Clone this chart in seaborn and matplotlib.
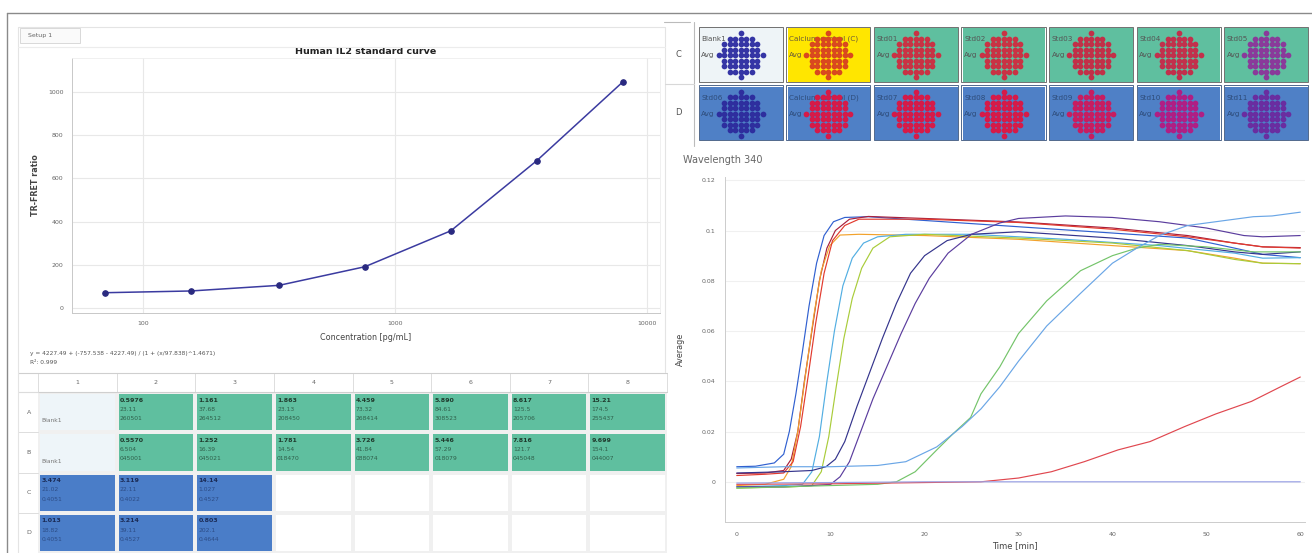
import numpy as np
import pandas as pd
import matplotlib
matplotlib.use("Agg")
import matplotlib.pyplot as plt
import seaborn as sns
from matplotlib.colors import ListedColormap
from matplotlib.patches import Rectangle
from matplotlib.lines import Line2D

# ---------------- data ----------------
# standard curve
conc = [70.6, 155, 347, 760, 1667, 3657, 8030]
ratio = [72, 80, 106, 192, 358, 682, 1046]
std_xticks = [100, 1000, 10000]
std_yticks = [0, 200, 400, 600, 800, 1000]
equation = "y = 4227.49 + (-757.538 - 4227.49) / (1 + (x/97.838)^1.4671)"
r2_text = "R\u00b2: 0.999"

# results table
tbl_cols = ["1", "2", "3", "4", "5", "6", "7", "8"]
tbl_rows = ["A", "B", "C", "D"]
tbl_kind = [[1, 2, 2, 2, 2, 2, 2, 2],
            [1, 2, 2, 2, 2, 2, 2, 2],
            [3, 3, 3, 0, 0, 0, 0, 0],
            [3, 3, 3, 0, 0, 0, 0, 0]]
tbl_v1 = [["", "0.5976", "1.161", "1.863", "4.459", "5.890", "8.617", "15.21"],
          ["", "0.5570", "1.252", "1.781", "3.726", "5.446", "7.816", "9.699"],
          ["3.474", "3.119", "14.14", "", "", "", "", ""],
          ["1.013", "3.214", "0.803", "", "", "", "", ""]]
tbl_v2 = [["", "23.11", "37.68", "23.13", "73.32", "84.61", "125.5", "174.5"],
          ["", "6.504", "16.39", "14.54", "41.84", "57.29", "121.7", "154.1"],
          ["21.02", "22.11", "1.027", "", "", "", "", ""],
          ["18.82", "39.11", "202.1", "", "", "", "", ""]]
tbl_v3 = [["", "260501", "264512", "208450", "268414", "308523", "205706", "255437"],
          ["", "045001", "045021", "018470", "088074", "018079", "045048", "044007"],
          ["0.4051", "0.4022", "0.4527", "", "", "", "", ""],
          ["0.4051", "0.4527", "0.4644", "", "", "", "", ""]]
tbl_blank = [["Blank1", "", "", "", "", "", "", ""],
             ["Blank1", "", "", "", "", "", "", ""],
             ["", "", "", "", "", "", "", ""],
             ["", "", "", "", "", "", "", ""]]

# well overview
well_rows = ["C", "D"]
well_kind = [[0, 1, 2, 2, 2, 2, 2],
             [3, 3, 3, 3, 3, 3, 3]]
well_names = [["Blank1", "Calcium control (C)", "Std01", "Std02", "Std03", "Std04", "Std05"],
              ["Std06", "Calcium control (D)", "Std07", "Std08", "Std09", "Std10", "Std11"]]
well_dot = [["#3535a5", "#d9481f", "#c93244", "#c93244", "#c23048", "#c2304c", "#8a3a9a"],
            ["#2e2e9e", "#d61a48", "#d61a48", "#d61a48", "#c81d60", "#b01e84", "#6a2da0"]]
dot_row_widths = [1, 5, 7, 7, 9, 7, 7, 5, 1]

# kinetic curves (Wavelength 340)
kin_t = {
    "c1": [0, 2, 4, 5, 5.6, 6.3, 7, 7.7, 8.5, 9.3, 10.3, 11.5, 14, 20, 30, 40, 48, 53, 56, 60],
    "c2": [0, 3, 5, 5.8, 6.5, 7.2, 8, 8.8, 9.6, 10.5, 12, 14, 20, 30, 40, 48, 53, 56, 60],
    "c3": [0, 3, 5, 5.8, 6.5, 7.3, 8.2, 9, 9.9, 11, 13, 20, 30, 40, 48, 53, 56, 60],
    "c4": [0, 3, 5, 6, 6.8, 7.6, 8.4, 9.3, 10.2, 11.5, 13, 20, 30, 40, 48, 53, 56, 60],
    "c5": [0, 5, 7, 8, 8.8, 9.6, 10.4, 11.3, 12.3, 13.5, 15, 18, 25, 35, 45, 53, 56, 60],
    "c6": [0, 6, 8, 9, 9.8, 10.6, 11.4, 12.3, 13.3, 14.5, 16.3, 20, 30, 40, 48, 53, 56, 60],
    "c7": [0, 5, 8, 9.5, 10.5, 11.5, 12.8, 14.2, 15.5, 17, 18.5, 20, 22.4, 25, 30, 40, 48, 53, 56, 60],
    "c8": [0, 5, 8, 10, 11, 12, 13, 14.5, 16, 17.5, 19, 20.5, 22.5, 25, 28, 30, 35, 40, 45, 50, 54, 56, 60],
    "c9": [0, 5, 10, 15, 17, 19, 21.3, 23, 24.9, 26, 28, 30, 33, 36.6, 40, 42.6, 45, 50, 55, 60],
    "c10": [0, 5, 10, 15, 18, 21.3, 24, 26, 28, 30, 33, 36.6, 40, 42.6, 45, 48, 52, 55, 57, 60],
    "c11": [0, 10, 20, 26, 30, 33.5, 37, 40.6, 44, 47.7, 51, 54.8, 58, 60],
    "c12": [0, 10, 20, 30, 40, 50, 60],
}
kin_v = {
    "c1": [0.0060, 0.0062, 0.0075, 0.011, 0.020, 0.035, 0.052, 0.070, 0.087, 0.098, 0.1035, 0.1052,
           0.1055, 0.1040, 0.1015, 0.0990, 0.0970, 0.0930, 0.0905, 0.0892],
    "c2": [0.0033, 0.0035, 0.0045, 0.009, 0.020, 0.040, 0.060, 0.080, 0.093, 0.100, 0.1045, 0.1056,
           0.1048, 0.1034, 0.1010, 0.0980, 0.0950, 0.0935, 0.0932],
    "c3": [-0.0015, -0.0010, 0.0010, 0.006, 0.020, 0.042, 0.066, 0.084, 0.094, 0.0982, 0.0985,
           0.0980, 0.0965, 0.0940, 0.0920, 0.0890, 0.0870, 0.0868],
    "c4": [0.0025, 0.0030, 0.0035, 0.008, 0.022, 0.042, 0.063, 0.083, 0.096, 0.102, 0.1045,
           0.1045, 0.1032, 0.1005, 0.0975, 0.0950, 0.0935, 0.0930],
    "c5": [-0.0020, -0.0015, -0.0010, 0.004, 0.018, 0.040, 0.060, 0.078, 0.089, 0.095, 0.0975,
           0.0985, 0.0985, 0.0965, 0.0940, 0.0910, 0.0890, 0.0892],
    "c6": [-0.0025, -0.0020, -0.0015, 0.004, 0.018, 0.038, 0.057, 0.073, 0.085, 0.093, 0.0975,
           0.0985, 0.0970, 0.0950, 0.0920, 0.0885, 0.0870, 0.0868],
    "c7": [0.0035, 0.0040, 0.0045, 0.006, 0.009, 0.016, 0.030, 0.044, 0.057, 0.071, 0.083, 0.090,
           0.096, 0.0985, 0.0995, 0.0970, 0.0940, 0.0915, 0.0905, 0.0915],
    "c8": [-0.0020, -0.0020, -0.0015, -0.0010, 0.002, 0.008, 0.018, 0.033, 0.046, 0.059, 0.071,
           0.081, 0.091, 0.0985, 0.1030, 0.1048, 0.1058, 0.1052, 0.1035, 0.1010, 0.0980, 0.0975, 0.0980],
    "c9": [-0.0025, -0.0020, -0.0015, -0.0010, 0.0000, 0.004, 0.0127, 0.019, 0.0256, 0.035, 0.0457,
           0.059, 0.072, 0.084, 0.090, 0.093, 0.0945, 0.0935, 0.0915, 0.0915],
    "c10": [0.0055, 0.0060, 0.0060, 0.0065, 0.0080, 0.0139, 0.022, 0.029, 0.0378, 0.048, 0.062,
            0.075, 0.087, 0.093, 0.098, 0.102, 0.104, 0.1055, 0.1058, 0.1073],
    "c11": [-0.0010, -0.0008, -0.0003, 0.0000, 0.0015, 0.004, 0.008, 0.0127, 0.016, 0.022, 0.027,
            0.032, 0.038, 0.0417],
    "c12": [-0.0005, -0.0003, 0.0000, 0.0000, 0.0000, 0.0000, 0.0000],
}
kin_colors = {
    "c1": "#3060d0", "c2": "#a8203c", "c3": "#f2a22c", "c4": "#e23a2e",
    "c5": "#52aee2", "c6": "#a9cc3a", "c7": "#34348c", "c8": "#5b3d9e",
    "c9": "#74c46a", "c10": "#6aa6e6", "c11": "#e0474f", "c12": "#9aa2e6",
}
kin_xticks = [0, 10, 20, 30, 40, 50, 60]
kin_yticks = [0, 0.02, 0.04, 0.06, 0.08, 0.1, 0.12]
kin_ylabels = ["0", "0.02", "0.04", "0.06", "0.08", "0.1", "0.12"]

# ---------------- figure ----------------
sns.set_theme(style="white")
plt.rcParams['font.family'] = ['DejaVu Sans']

W, H = 1312, 553
fig = plt.figure(figsize=(W / 100, H / 100), dpi=100)
fig.patch.set_facecolor("white")


def rect(x0, y0, x1, y1):
    return [x0 / W, 1 - y1 / H, (x1 - x0) / W, (y1 - y0) / H]


def fline(x0, y0, x1, y1, color="#cccccc", lw=0.8):
    fig.add_artist(Line2D([x0 / W, x1 / W], [1 - y0 / H, 1 - y1 / H], color=color, lw=lw))


# frame lines
fline(7, 12.5, 1312, 12.5, "#8a8a8a", 1.0)
fline(7, 12.5, 7, 553, "#8a8a8a", 1.0)
# left panel frame
fline(18, 27, 665, 27, "#e4e4e4", 0.8)
fline(18, 27, 18, 553, "#e4e4e4", 0.8)
fline(665, 27, 665, 372, "#e4e4e4", 0.8)
fline(18, 47, 665, 47, "#ececec", 0.8)
# tab
fig.add_artist(Rectangle((20 / W, 1 - 43 / H), 60 / W, 15 / H, transform=fig.transFigure,
                         fc="#fafafa", ec="#d8d8d8", lw=0.7))
fig.text(28 / W, 1 - 35.5 / H, "Setup 1", fontsize=4.5, color="#666666", va="center")

# ---------------- standard curve ----------------
ax = fig.add_axes(rect(72, 58, 660, 313))
ax.set_xscale("log")
sns.lineplot(x=conc, y=ratio, ax=ax, color="#3b3ba0", lw=1.1, marker="o", markersize=4,
             markerfacecolor="#2a2a80", markeredgecolor="#2a2a80")
ax.set_xlim(52.3, 11270)
ax.set_ylim(-21.7, 1156)
ax.set_xticks(std_xticks)
ax.set_xticklabels([str(v) for v in std_xticks])
ax.minorticks_off()
ax.set_yticks(std_yticks)
ax.set_yticklabels([str(v) for v in std_yticks])
ax.tick_params(labelsize=4.5, colors="#666666", length=0, pad=6)
ax.grid(True, color="#e8e8e8", lw=0.8)
for s in ["top", "right"]:
    ax.spines[s].set_color("#eeeeee")
    ax.spines[s].set_linewidth(0.6)
for s in ["left", "bottom"]:
    ax.spines[s].set_color("#c8c8c8")
    ax.spines[s].set_linewidth(0.7)
ax.set_title("Human IL2 standard curve", fontsize=6.8, fontweight="bold", color="#222222", pad=3)
ax.set_xlabel("Concentration [pg/mL]", fontsize=5.8, color="#444444", labelpad=5)
ax.set_ylabel("TR-FRET ratio", fontsize=5.8, color="#444444", labelpad=6, fontweight="bold")

fig.text(30 / W, 1 - 353 / H, equation, fontsize=4.2, color="#555555", va="center")
fig.text(30 / W, 1 - 363 / H, r2_text, fontsize=4.2, color="#555555", va="center")

# ---------------- results table ----------------
axt = fig.add_axes(rect(38, 392, 667, 553))
tcmap = ListedColormap(["#ffffff", "#eef5f9", "#5fbf9f", "#4a7dc8"])
sns.heatmap(np.array(tbl_kind), cmap=tcmap, vmin=-0.5, vmax=3.5, cbar=False,
            linewidths=1.6, linecolor="#f0f0f0", ax=axt,
            xticklabels=tbl_cols, yticklabels=tbl_rows)
axt.xaxis.tick_top()
axt.tick_params(labelsize=4.5, colors="#666666", length=0, pad=5)
plt.setp(axt.get_yticklabels(), rotation=0)
for j in range(len(tbl_cols) + 1):
    axt.plot([j, j], [-0.47, 0], color="#dddddd", lw=0.7, clip_on=False)
axt.plot([-0.25, len(tbl_cols)], [-0.47, -0.47], color="#cfcfcf", lw=0.8, clip_on=False)
axt.plot([-0.25, len(tbl_cols)], [0, 0], color="#cfcfcf", lw=0.8, clip_on=False)
for i in range(len(tbl_rows) + 1):
    axt.plot([-0.25, 0], [i, i], color="#dddddd", lw=0.7, clip_on=False)
for i in range(len(tbl_rows)):
    for j in range(len(tbl_cols)):
        k = tbl_kind[i][j]
        if k == 2:
            c1, c2 = "#1f3a2c", "#2f5f4a"
        else:
            c1, c2 = "#1a2a55", "#2c4c86"
        if tbl_v1[i][j]:
            axt.text(j + 0.04, i + 0.2, tbl_v1[i][j], fontsize=4.5, fontweight="bold",
                     color=c1, va="center")
            axt.text(j + 0.04, i + 0.43, tbl_v2[i][j], fontsize=4.3, color=c2, va="center")
            axt.text(j + 0.04, i + 0.66, tbl_v3[i][j], fontsize=4.3, color=c2, va="center")
        if tbl_blank[i][j]:
            axt.text(j + 0.04, i + 0.72, tbl_blank[i][j], fontsize=4.3, color="#777777", va="center")

# ---------------- well overview ----------------
axw = fig.add_axes(rect(697, 25, 1310, 142))
wcmap = ListedColormap(["#eef4f7", "#ffe600", "#5fbf9f", "#4f80c6"])
sns.heatmap(np.array(well_kind), cmap=wcmap, vmin=-0.5, vmax=3.5, cbar=False,
            linewidths=3.5, linecolor="white", ax=axw,
            xticklabels=False, yticklabels=well_rows)
axw.tick_params(labelsize=6, colors="#555555", length=0, pad=11)
plt.setp(axw.get_yticklabels(), rotation=0)
ncol = len(well_kind[0])
dx, dy = 5.5 / (613 / ncol), 5.5 / (117 / 2)
for i in range(2):
    for j in range(ncol):
        axw.add_patch(Rectangle((j + 0.02, i + 0.03), 0.96, 0.94, fill=False,
                                ec="#5a5a5a" if i == 0 else "#34507a", lw=0.6))
        tc = "#6a5a3a" if well_kind[i][j] == 1 else ("#555555" if i == 0 else "#2e4c7a")
        axw.text(j + 0.05, i + 0.24, well_names[i][j], fontsize=5.2, color=tc, va="center",
                 clip_on=True)
        axw.text(j + 0.05, i + 0.52, "Avg", fontsize=5.2, color=tc, va="center")
        xs, ys = [], []
        for r, w in enumerate(dot_row_widths):
            for k in range(w):
                xs.append(j + 0.5 + (k - (w - 1) / 2) * dx)
                ys.append(i + 0.52 + (r - 4) * dy)
        sns.scatterplot(x=xs, y=ys, ax=axw, color=well_dot[i][j], s=17, linewidth=0,
                        legend=False, zorder=5)
axw.set_xlim(0, ncol)
axw.set_ylim(2, 0)
axw.set_xlabel("")
fline(694, 22, 694, 146, "#bbbbbb", 0.8)
fline(665, 84, 694, 84, "#d8d8d8", 0.8)
fline(664, 22, 690, 22, "#bbbbbb", 0.8)

# ---------------- kinetic chart ----------------
rows = []
for key in kin_t:
    for t, v in zip(kin_t[key], kin_v[key]):
        rows.append((key, t, v))
kdf = pd.DataFrame(rows, columns=["well", "time", "value"])

axr = fig.add_axes(rect(725, 177, 1305, 522))
sns.lineplot(data=kdf, x="time", y="value", hue="well", palette=kin_colors,
             estimator=None, lw=0.85, legend=False, ax=axr)
axr.set_xlim(-1.25, 60.5)
axr.set_ylim(-0.016, 0.1213)
axr.set_xticks(kin_xticks)
axr.set_xticklabels([str(v) for v in kin_xticks])
axr.set_yticks(kin_yticks)
axr.set_yticklabels(kin_ylabels)
axr.tick_params(labelsize=4.5, colors="#666666", length=0, pad=7)
axr.grid(True, axis="y", color="#f0f0f0", lw=0.8)
for s in ["top", "right"]:
    axr.spines[s].set_visible(False)
for s in ["left", "bottom"]:
    axr.spines[s].set_color("#cccccc")
    axr.spines[s].set_linewidth(0.7)
axr.set_xlabel("Time [min]", fontsize=6, color="#444444", labelpad=3)
axr.set_ylabel("Average", fontsize=5.8, color="#444444", labelpad=12)
fig.text(683 / W, 1 - 160 / H, "Wavelength 340", fontsize=7, color="#666666", va="center")

fig.savefig("out.png", dpi=100)
